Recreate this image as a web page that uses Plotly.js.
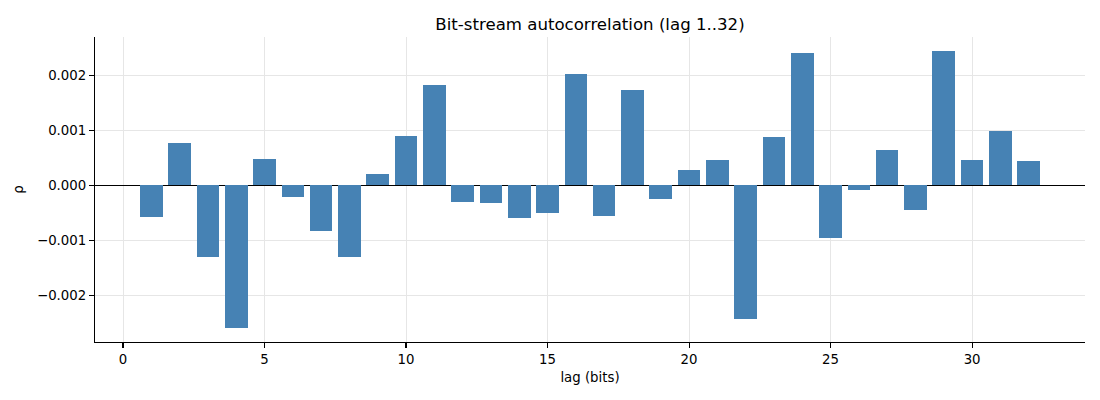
<!DOCTYPE html>
<html>
<head>
<meta charset="utf-8">
<script src="https://cdn.plot.ly/plotly-3.0.1.min.js"></script>
<style>html,body{margin:0;padding:0;background:#fff;}#chart{width:1100px;height:400px;}</style>
</head>
<body>
<div id="chart"></div>
<script>
const lags = [1,2,3,4,5,6,7,8,9,10,11,12,13,14,15,16,17,18,19,20,21,22,23,24,25,26,27,28,29,30,31,32];
const rho = [-0.000576, 0.00077, -0.0013, -0.00259, 0.000479, -0.000206, -0.000824, -0.0013,
             0.000206, 0.000897, 0.001824, -0.000303, -0.000321, -0.000594, -0.000503, 0.002024,
             -0.000552, 0.001733, -0.000248, 0.000279, 0.000461, -0.002424, 0.000879, 0.002406,
             -0.000952, -0.000079, 0.000642, -0.000442, 0.002442, 0.000461, 0.000988, 0.000442];
const xTicks = [0,5,10,15,20,25,30];
const yTicks = [-0.002,-0.001,0,0.001,0.002];
const yTickLabels = ['\u22120.002','\u22120.001','0.000','0.001','0.002'];

const font = {family: 'DejaVu Sans, sans-serif', size: 13.3, color: '#000'};

Plotly.newPlot('chart', [{
  type: 'bar',
  x: lags,
  y: rho,
  width: 0.8,
  marker: {color: '#4682B4', line: {width: 0}},
  hoverinfo: 'x+y'
}], {
  width: 1100,
  height: 400,
  margin: {l: 95, r: 15, t: 37, b: 58},
  paper_bgcolor: '#fff',
  plot_bgcolor: '#fff',
  font: font,
  showlegend: false,
  title: {text: 'Bit-stream autocorrelation (lag 1..32)', font: {family: 'DejaVu Sans, sans-serif', size: 16.6, color: '#000'}, xref: 'paper', x: 0.5, xanchor: 'center', y: 0.94, yanchor: 'middle'},
  xaxis: {
    range: [-0.99, 33.99],
    tickvals: xTicks,
    ticktext: xTicks.map(String),
    showgrid: true, gridcolor: '#e6e6e6', gridwidth: 1,
    zeroline: false,
    showline: true, linecolor: '#000', linewidth: 1.1,
    ticks: 'outside', ticklen: 5, tickcolor: '#000', tickwidth: 1.1,
    tickfont: font,
    title: {text: 'lag (bits)', font: font, standoff: 6}
  },
  yaxis: {
    range: [-0.00284, 0.00269],
    tickvals: yTicks,
    ticktext: yTickLabels,
    showgrid: true, gridcolor: '#e6e6e6', gridwidth: 1,
    zeroline: true, zerolinecolor: '#000', zerolinewidth: 1,
    showline: true, linecolor: '#000', linewidth: 1.1,
    ticks: 'outside', ticklen: 5, tickcolor: '#000', tickwidth: 1.1,
    tickfont: font,
    title: {text: 'ρ', font: font, standoff: 10}
  },
  bargap: 0
}, {displayModeBar: false, staticPlot: true});
</script>
</body>
</html>
